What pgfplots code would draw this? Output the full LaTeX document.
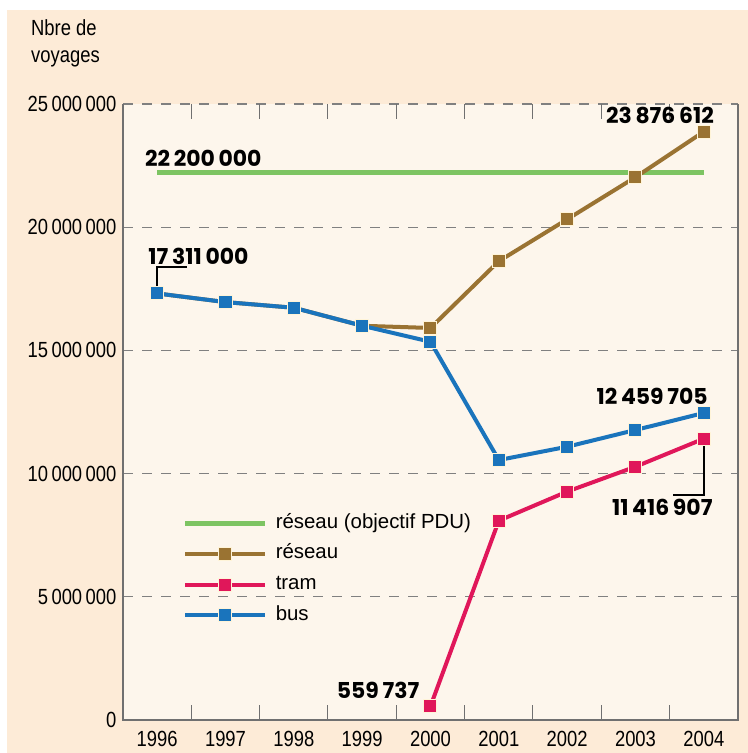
\documentclass[border=0pt]{standalone}
\usepackage{fontspec}
\setmainfont{Liberation Sans}
\newfontfamily\tickfont{Liberation Sans}[FakeStretch=0.84]
\newfontfamily\numfont{Poppins}
\usepackage{pgfplots}
\pgfplotsset{compat=1.18}
\usetikzlibrary{arrows.meta}
\definecolor{outerbg}{HTML}{FDEBD7}
\definecolor{innerbg}{HTML}{FDF6EC}
\definecolor{cgreen}{HTML}{7DC462}
\definecolor{cbrown}{HTML}{9A7332}
\definecolor{ctram}{HTML}{E0175A}
\definecolor{cbus}{HTML}{1A74BC}
\definecolor{cgrid}{HTML}{808080}
\definecolor{caxis}{HTML}{707070}
\definecolor{mborder}{HTML}{FFF4D8}
\newcommand\ts{\hspace{0.16em}}
\newcommand\ns{\hspace{0.17em}}
\newcommand\nlab[1]{{\numfont\bfseries\fontsize{22}{24}\selectfont #1}}
\begin{document}
\begin{tikzpicture}
\path[use as bounding box] (0,0) rectangle (748bp,753bp);
\fill[white] (0,0) rectangle (748bp,753bp);
\fill[outerbg] (7bp,0) rectangle (748bp,743bp);
\node[anchor=north west, align=left, inner sep=0, font=\tickfont\fontsize{22}{28}\selectfont] at (31bp,734bp) {Nbre de\\voyages};
\begin{axis}[
  at={(123bp,33bp)}, anchor=south west,
  width=615bp, height=616bp, scale only axis,
  xmin=1995.5, xmax=2004.5, ymin=0, ymax=25000000,
  scaled y ticks=false,
  clip=false,
  axis background/.style={fill=innerbg},
  axis line style={draw=none},
  xtick={1996,1997,1998,1999,2000,2001,2002,2003,2004},
  xticklabels={1996,1997,1998,1999,2000,2001,2002,2003,2004},
  minor xtick={1996.5,1997.5,1998.5,1999.5,2000.5,2001.5,2002.5,2003.5},
  major tick length=0pt, minor tick length=15bp,
  tick style={caxis, line width=1bp},
  ytick={0,5000000,10000000,15000000,20000000,25000000},
  yticklabels={0,5\ts000\ts000,10\ts000\ts000,15\ts000\ts000,20\ts000\ts000,25\ts000\ts000},
  ymajorgrids,
  grid style={cgrid, line width=1.3bp, dash pattern=on 10bp off 9bp},
  tick label style={font=\tickfont\fontsize{22}{26}\selectfont},
  yticklabel style={xshift=-3bp},
  xticklabel style={yshift=-8bp},
  every axis plot/.append style={line width=4bp},
  legend image code/.code={
    \draw[#1, mark=none] (0bp,0bp) -- (80bp,0bp);
    \draw[#1, only marks] plot coordinates {(40bp,0bp)};
  },
  legend cell align=left,
  legend style={draw=none, fill=none, at={(0.092,0.341)}, anchor=north west,
    font=\fontsize{20.5}{23}\selectfont,
    nodes={inner sep=2bp, text height=14bp, text depth=4bp},
    row sep=8.7bp,
    /tikz/every odd column/.append style={column sep=6bp}},
]
\addplot[cgreen, line width=5bp, mark=none] coordinates {(1996,22200000) (2004,22200000)};
\addlegendentry{réseau (objectif PDU)}
\addplot[cbrown, mark=square*, mark size=6.5bp, mark options={fill=cbrown, draw=mborder, line width=1bp, solid}] coordinates {
(1996,17311000) (1997,16960000) (1998,16730000) (1999,16000000) (2000,15909737) (2001,18620000) (2002,20320000) (2003,22030000) (2004,23876612)};
\addlegendentry{réseau}
\addplot[ctram, mark=square*, mark size=6.5bp, mark options={fill=ctram, draw=mborder, line width=1bp, solid}] coordinates {
(2000,559737) (2001,8090000) (2002,9270000) (2003,10280000) (2004,11416907)};
\addlegendentry{tram}
\addplot[cbus, mark=square*, mark size=6.5bp, mark options={fill=cbus, draw=mborder, line width=1bp, solid}] coordinates {
(1996,17311000) (1997,16960000) (1998,16730000) (1999,16000000) (2000,15350000) (2001,10550000) (2002,11090000) (2003,11770000) (2004,12459705)};
\addlegendentry{bus}
\draw[caxis, line width=1.3bp] (rel axis cs:0,1) -- (rel axis cs:0,0) -- (rel axis cs:1,0) -- (rel axis cs:1,1);
\draw[black, line width=2.5bp, {Circle[length=6bp]}-] (axis cs:1996,17311000) |- (axis cs:1996.43,18380000);
\draw[black, line width=2.5bp, {Circle[length=6bp]}-] (axis cs:2004,11416907) |- (axis cs:2003.55,9130000);
\node[anchor=west, inner sep=0] at (axis cs:1995.82,22810000) {\nlab{22\ns200\ns000}};
\node[anchor=west, inner sep=0] at (axis cs:1995.87,18830000) {\nlab{17\ns311\ns000}};
\node[anchor=east, inner sep=0] at (axis cs:2004.15,24550000) {\nlab{23\ns876\ns612}};
\node[anchor=east, inner sep=0] at (axis cs:2004.06,13150000) {\nlab{12\ns459\ns705}};
\node[anchor=east, inner sep=0] at (axis cs:2004.13,8640000) {\nlab{11\ns416\ns907}};
\node[anchor=east, inner sep=0] at (axis cs:1999.84,1220000) {\nlab{559\ns737}};
\end{axis}
\end{tikzpicture}
\end{document}
